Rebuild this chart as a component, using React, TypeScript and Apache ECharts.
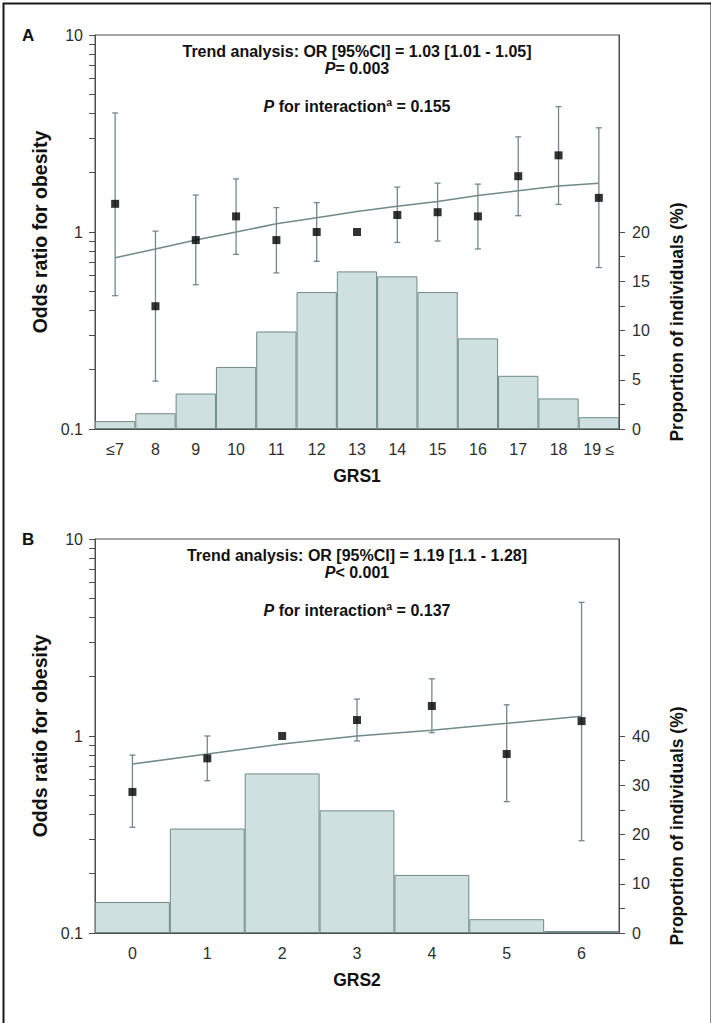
import React, { useEffect, useRef } from "react";
import * as echarts from "echarts";

// ---- Panel A (GRS1) ----
const grs1Categories = ["≤7", "8", "9", "10", "11", "12", "13", "14", "15", "16", "17", "18", "19 ≤"];
const grs1Proportion = [0.8, 1.6, 3.6, 6.3, 9.9, 13.9, 16.0, 15.5, 13.9, 9.2, 5.4, 3.1, 1.2];
const grs1OR = [1.39, 0.42, 0.91, 1.2, 0.91, 1.0, 1.0, 1.22, 1.26, 1.2, 1.92, 2.45, 1.49];
const grs1Lower = [0.475, 0.175, 0.54, 0.77, 0.62, 0.71, null, 0.885, 0.9, 0.82, 1.21, 1.38, 0.66];
const grs1Upper = [4.02, 1.01, 1.54, 1.86, 1.33, 1.41, null, 1.69, 1.77, 1.75, 3.04, 4.33, 3.38];
const grs1Trend = [0.74, 0.82, 0.91, 1.0, 1.1, 1.18, 1.27, 1.35, 1.43, 1.53, 1.62, 1.71, 1.77];
const grs1PropTicks = [0, 2.5, 5, 7.5, 10, 12.5, 15, 17.5, 20];
const grs1PropLabels = [0, 5, 10, 15, 20];

// ---- Panel B (GRS2) ----
const grs2Categories = ["0", "1", "2", "3", "4", "5", "6"];
const grs2Proportion = [6.3, 21.2, 32.4, 24.9, 11.8, 2.8, 0.4];
const grs2OR = [0.52, 0.77, 1.0, 1.205, 1.42, 0.81, 1.19];
const grs2Lower = [0.344, 0.593, null, 0.944, 1.04, 0.464, 0.294];
const grs2Upper = [0.8, 1.0, null, 1.54, 1.95, 1.44, 4.77];
const grs2Trend = [0.72, 0.81, 0.91, 1.0, 1.07, 1.16, 1.26];
const grs2PropTicks = [0, 5, 10, 15, 20, 25, 30, 35, 40];
const grs2PropLabels = [0, 10, 20, 30, 40];

// ---- Shared axis/text content ----
const orTicks = [0.1, 0.2, 0.3, 0.4, 0.5, 0.6, 0.7, 0.8, 0.9, 1, 2, 3, 4, 5, 6, 7, 8, 9, 10];
const orLabels = [0.1, 1, 10];
const panelLetters = ["A", "B"];
const xNames = ["GRS1", "GRS2"];
const trendTexts = [
  "Trend analysis: OR [95%CI] = 1.03 [1.01 - 1.05]",
  "Trend analysis: OR [95%CI] = 1.19 [1.1 - 1.28]",
];
const pTexts = ["= 0.003", "< 0.001"];
const interactionTexts = ["0.155", "0.137"];
const leftAxisName = "Odds ratio for obesity";
const rightAxisName = "Proportion of individuals (%)";

const FONT = "'Liberation Sans', Arial, Helvetica, sans-serif";
const AXIS_COLOR = "#4d4d4d";
const LABEL_COLOR = "#2e2e2e";
const TEAL = "#6f8a88";
const BAR_FILL = "#cfe0e0";

export default function App() {
  const ref = useRef<HTMLDivElement>(null);

  useEffect(() => {
    if (!ref.current) return;
    const chart = echarts.init(ref.current, undefined, { renderer: "svg" });

    const panels = [
      {
        cats: grs1Categories, prop: grs1Proportion, or: grs1OR, lo: grs1Lower, hi: grs1Upper,
        trend: grs1Trend, propMax: 40, propTicks: grs1PropTicks, propLabels: grs1PropLabels, top: 35,
      },
      {
        cats: grs2Categories, prop: grs2Proportion, or: grs2OR, lo: grs2Lower, hi: grs2Upper,
        trend: grs2Trend, propMax: 80, propTicks: grs2PropTicks, propLabels: grs2PropLabels, top: 539,
      },
    ];
    const H = 394;
    const LEFT = 95;
    const RIGHT = 92;
    const centerX = LEFT + (711 - LEFT - RIGHT) / 2;

    const grid: any[] = [];
    const xAxis: any[] = [];
    const yAxis: any[] = [];
    const series: any[] = [];
    const graphic: any[] = [];

    panels.forEach((p, k) => {
      grid.push({
        left: LEFT, right: RIGHT, top: p.top, height: H,
        show: true, borderColor: AXIS_COLOR, borderWidth: 1, backgroundColor: "transparent",
        containLabel: false,
      });
      xAxis.push({
        type: "category", gridIndex: k, data: p.cats, boundaryGap: true,
        axisLine: { show: true, lineStyle: { color: AXIS_COLOR, width: 1 } },
        axisTick: { show: false },
        axisLabel: { interval: 0, margin: 12, color: LABEL_COLOR, fontSize: 16, fontFamily: FONT },
        splitLine: { show: false },
        name: xNames[k], nameLocation: "middle", nameGap: 38,
        nameTextStyle: { fontSize: 17.5, fontWeight: "bold", color: "#111", fontFamily: FONT },
      });
      yAxis.push({
        type: "log", logBase: 10, gridIndex: k, min: 0.1, max: 10, position: "left",
        axisLine: { show: true, lineStyle: { color: AXIS_COLOR, width: 1 } },
        axisTick: { show: true, length: 6, customValues: orTicks, lineStyle: { color: AXIS_COLOR } },
        axisLabel: {
          customValues: orLabels, margin: 12, color: LABEL_COLOR, fontSize: 16, fontFamily: FONT,
          formatter: (v: number) => String(Number(v.toPrecision(3))),
        },
        minorTick: { show: false },
        splitLine: { show: false },
        name: leftAxisName, nameLocation: "middle", nameGap: 44, nameRotate: 90,
        nameTextStyle: { fontSize: 19.5, fontWeight: "bold", color: "#111", fontFamily: FONT },
      });
      yAxis.push({
        type: "value", gridIndex: k, min: 0, max: p.propMax, interval: 5, position: "right",
        axisLine: { show: true, lineStyle: { color: AXIS_COLOR, width: 1 } },
        axisTick: { show: true, length: 6, customValues: p.propTicks, lineStyle: { color: AXIS_COLOR } },
        axisLabel: { customValues: p.propLabels, margin: 13, color: LABEL_COLOR, fontSize: 16, fontFamily: FONT },
        splitLine: { show: false },
      });

      const yLeft = k * 2;
      const yRight = k * 2 + 1;

      series.push({
        type: "bar", xAxisIndex: k, yAxisIndex: yRight, data: p.prop,
        barWidth: "100%", barCategoryGap: "0%", z: 1,
        itemStyle: { color: BAR_FILL, borderColor: TEAL, borderWidth: 1 },
        silent: true,
      });
      series.push({
        type: "line", xAxisIndex: k, yAxisIndex: yLeft, data: p.trend,
        symbol: "none", z: 3, lineStyle: { color: TEAL, width: 1.5 }, silent: true,
      });
      const errData = p.cats
        .map((_, i) => [i, p.lo[i], p.hi[i]])
        .filter((d) => d[1] != null && d[2] != null);
      series.push({
        type: "custom", xAxisIndex: k, yAxisIndex: yLeft, data: errData, z: 4,
        encode: { x: 0, y: [1, 2] }, silent: true,
        renderItem: (_params: any, api: any) => {
          const x = api.value(0);
          const lo = api.coord([x, api.value(1)]);
          const hi = api.coord([x, api.value(2)]);
          const cap = 3;
          const style = { stroke: TEAL, lineWidth: 1.3, fill: "none" };
          return {
            type: "group",
            children: [
              { type: "line", shape: { x1: lo[0], y1: lo[1], x2: hi[0], y2: hi[1] }, style },
              { type: "line", shape: { x1: lo[0] - cap, y1: lo[1], x2: lo[0] + cap, y2: lo[1] }, style },
              { type: "line", shape: { x1: hi[0] - cap, y1: hi[1], x2: hi[0] + cap, y2: hi[1] }, style },
            ],
          };
        },
      });
      series.push({
        type: "scatter", xAxisIndex: k, yAxisIndex: yLeft,
        data: p.or.map((v, i) => [i, v]), symbol: "rect", symbolSize: 8, z: 5,
        itemStyle: { color: "#000" }, silent: true,
      });

      // panel letter
      graphic.push({
        type: "text", left: 22, top: p.top - 8,
        style: { text: panelLetters[k], font: `bold 17px ${FONT}`, fill: "#111" },
      });
      // annotations
      const annFont = `bold 16px ${FONT}`;
      const rich = { i: { fontStyle: "italic", fontWeight: "bold", fontSize: 16, fontFamily: FONT, fill: "#111" } };
      graphic.push({
        type: "text", x: centerX, y: p.top + 16,
        style: { text: trendTexts[k], font: annFont, fill: "#111", align: "center", verticalAlign: "middle" },
      });
      graphic.push({
        type: "text", x: centerX, y: p.top + 33.5,
        style: {
          text: `{i|P}${pTexts[k]}`, font: annFont, fill: "#111",
          align: "center", verticalAlign: "middle", rich,
        },
      });
      graphic.push({
        type: "text", x: centerX, y: p.top + 71,
        style: {
          text: `{i|P} for interactionª = ${interactionTexts[k]}`, font: annFont, fill: "#111",
          align: "center", verticalAlign: "middle", rich,
        },
      });
      // right axis title
      graphic.push({
        type: "text", x: 677, y: p.top + H - 107, rotation: Math.PI / 2,
        style: {
          text: rightAxisName, font: `bold 17.5px ${FONT}`, fill: "#111",
          align: "center", verticalAlign: "middle",
        },
      });
    });

    // outer frame
    graphic.push({
      type: "rect", left: 1, top: 1, z: 100,
      shape: { width: 708, height: 1021 },
      style: { fill: "none", stroke: "#1a1a1a", lineWidth: 2 },
      silent: true,
    });

    chart.setOption({
      animation: false,
      backgroundColor: "#fff",
      textStyle: { fontFamily: FONT },
      grid, xAxis, yAxis, series, graphic,
    });

    return () => chart.dispose();
  }, []);

  return (
    <div
      ref={ref}
      style={{ position: "absolute", left: 0, top: 0, width: 711, height: 1023, background: "#fff" }}
    />
  );
}
